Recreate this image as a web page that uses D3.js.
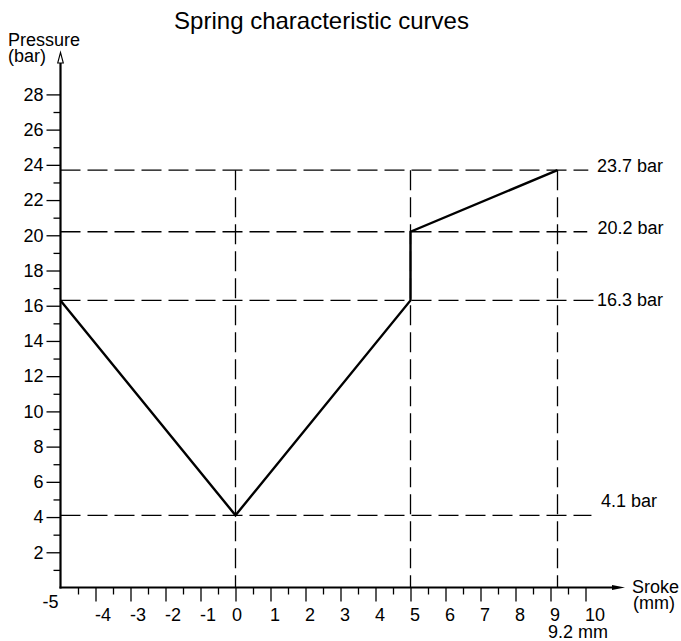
<!DOCTYPE html>
<html>
<head>
<meta charset="utf-8">
<script src="https://cdn.jsdelivr.net/npm/d3@7"></script>
<style>
  html, body { margin: 0; padding: 0; background: #fff; }
  svg { display: block; }
  text { font-family: "Liberation Sans", Arial, sans-serif; fill: #000; }
</style>
</head>
<body>
<svg id="chart" width="681" height="641"></svg>
<script>
// ---------- data ----------
const strokeMM   = [-5, 0, 5, 5, 9.2];             // spring curve x (mm)
const pressureBar = [16.3, 4.1, 16.3, 20.2, 23.7]; // spring curve y (bar)

const refPressures = [23.7, 20.2, 16.3, 4.1];     // horizontal reference lines
const refLabels    = ["23.7 bar", "20.2 bar", "16.3 bar", "4.1 bar"];
const refStrokes   = [0, 5, 9.2];                 // vertical reference lines

const yMajorTicks = [2, 4, 6, 8, 10, 12, 14, 16, 18, 20, 22, 24, 26, 28];
const yMinorTicks = [1, 3, 5, 7, 9, 11, 13, 15, 17, 19, 21, 23, 25, 27];
const xMajorTicks = [-4, -3, -2, -1, 0, 1, 2, 3, 4, 5, 6, 7, 8, 9, 10];
const xMinorTicks = [-4.5, -3.5, -2.5, -1.5, -0.5, 0.5, 1.5, 2.5, 3.5, 4.5, 5.5, 6.5, 7.5, 8.5, 9.5];

// ---------- layout ----------
const refLineEnd = [10.08, 10.05, 10.28, 10.17];   // where each horizontal dashed line stops (mm)
const refLabelX  = [597, 597.5, 597, 601];
const refLabelDy = [2, 2, 6, -8];

const svg = d3.select("#chart");
const x = d3.scaleLinear().domain([-5, 10]).range([60.5, 585.5]);
const y = d3.scaleLinear().domain([0, 28]).range([587.5, 94.4]);

const FS = 18;
const fmt = d => String(d);

// title
svg.append("text").attr("x", 321.5).attr("y", 29).attr("text-anchor", "middle")
  .style("font-size", "24px").text("Spring characteristic curves");

// dashed reference lines
const dash = "20,7";
svg.append("g").selectAll("line").data(refPressures).join("line")
  .attr("x1", x(-5)).attr("x2", (d, i) => x(refLineEnd[i]))
  .attr("y1", d => y(d)).attr("y2", d => y(d))
  .attr("stroke", "#000").attr("stroke-width", 1.3).attr("stroke-dasharray", dash);

svg.append("g").selectAll("line").data(refStrokes).join("line")
  .attr("x1", d => x(d)).attr("x2", d => x(d))
  .attr("y1", y(d3.max(refPressures))).attr("y2", y(0))
  .attr("stroke", "#000").attr("stroke-width", 1.3).attr("stroke-dasharray", dash);

// reference labels
svg.append("g").selectAll("text").data(refLabels).join("text")
  .attr("x", (d, i) => refLabelX[i])
  .attr("y", (d, i) => y(refPressures[i]) + refLabelDy[i])
  .style("font-size", FS + "px").text(d => d);

// axes ticks
const yAxisMajor = d3.axisLeft(y).tickValues(yMajorTicks).tickSize(14).tickPadding(3).tickFormat(fmt);
const yAxisMinor = d3.axisLeft(y).tickValues(yMinorTicks).tickSize(7).tickFormat("");
const xAxisMajor = d3.axisBottom(x).tickValues(xMajorTicks).tickSize(14).tickPadding(7).tickFormat(fmt);
const xAxisMinor = d3.axisBottom(x).tickValues(xMinorTicks).tickSize(7).tickFormat("");

function styleAxis(g) {
  g.select(".domain").remove();
  g.selectAll("line").attr("stroke", "#000").attr("stroke-width", 1.3);
  g.selectAll("text").attr("fill", "#000").style("font-size", FS + "px")
    .style("font-family", '"Liberation Sans", Arial, sans-serif');
}

svg.append("g").attr("transform", `translate(${x(-5)},0)`).call(yAxisMajor).call(styleAxis);
svg.append("g").attr("transform", `translate(${x(-5)},0)`).call(yAxisMinor).call(styleAxis);
const gx = svg.append("g").attr("transform", `translate(0,${y(0)})`).call(xAxisMajor).call(styleAxis);
svg.append("g").attr("transform", `translate(0,${y(0)})`).call(xAxisMinor).call(styleAxis);
gx.selectAll(".tick text")
  .attr("text-anchor", d => d === 0 ? "middle" : "start")
  .attr("x", d => d === 0 ? 1 : -1);

// origin label
svg.append("text").attr("x", 58.5).attr("y", 608).attr("text-anchor", "end")
  .style("font-size", FS + "px").text("-5");

// axis lines with arrows
svg.append("line").attr("x1", x(-5)).attr("x2", x(-5)).attr("y1", y(0) + 1).attr("y2", 60)
  .attr("stroke", "#000").attr("stroke-width", 2.2);
svg.append("path").attr("d", `M${x(-5)},52.5 L${x(-5) - 2.8},63 L${x(-5) + 2.8},63 Z`)
  .attr("fill", "#fff").attr("stroke", "#000").attr("stroke-width", 1.1);
svg.append("line").attr("x1", x(-5) - 1).attr("x2", 615).attr("y1", y(0)).attr("y2", y(0))
  .attr("stroke", "#000").attr("stroke-width", 2.2);
svg.append("path").attr("d", `M625,${y(0)} L612,${y(0) - 2.6} L612,${y(0) + 2.6} Z`)
  .attr("fill", "#000");

// axis titles
svg.append("text").attr("x", 8).attr("y", 46).style("font-size", FS + "px").text("Pressure");
svg.append("text").attr("x", 8).attr("y", 62).style("font-size", FS + "px").text("(bar)");
svg.append("text").attr("x", 632).attr("y", 593).style("font-size", FS + "px").text("Sroke");
svg.append("text").attr("x", 633).attr("y", 609).style("font-size", FS + "px").text("(mm)");
svg.append("text").attr("x", 548).attr("y", 638).style("font-size", FS + "px").text("9.2 mm");

// spring curve
const pts = strokeMM.map((v, i) => [v, pressureBar[i]]);
svg.append("path").datum(pts)
  .attr("d", d3.line().x(d => x(d[0])).y(d => y(d[1])))
  .attr("fill", "none").attr("stroke", "#000").attr("stroke-width", 2.4)
  .attr("stroke-linejoin", "miter");
</script>
</body>
</html>
